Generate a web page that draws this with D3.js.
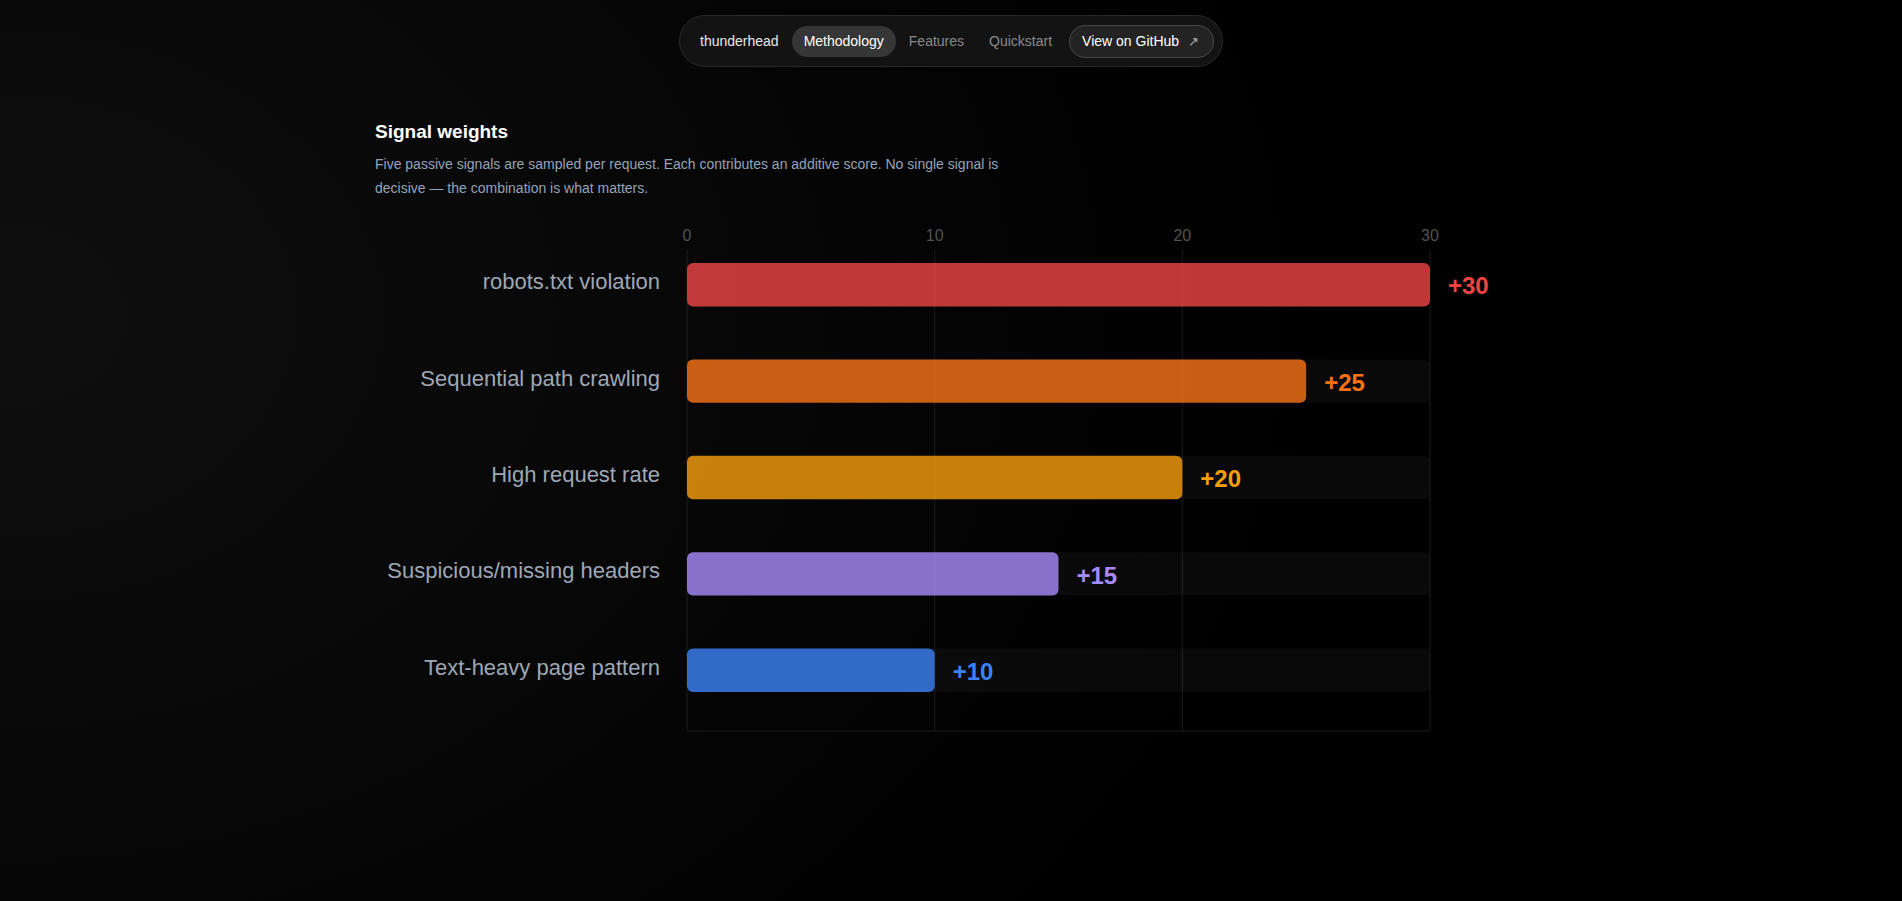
<!DOCTYPE html>
<html>
<head>
<meta charset="utf-8">
<script src="https://cdn.jsdelivr.net/npm/d3@7"></script>
<style>
  html, body { margin: 0; padding: 0; }
  body {
    width: 1902px; height: 901px; overflow: hidden; position: relative;
    background: radial-gradient(ellipse 70% 110% at 0% 35%, #0f0f0f 0%, #080808 45%, #000 100%);
    font-family: "Liberation Sans", Arial, sans-serif;
  }
  .nav {
    position: absolute; left: 679px; top: 15px; height: 52px; box-sizing: border-box;
    border: 1px solid #2a2a2a; border-radius: 26px; background: #131313;
    display: flex; align-items: center; padding: 0 8px; gap: 1px;
  }
  .nav a { font-size: 14px; line-height: 17px; padding: 7px 12px; border-radius: 16px; color: #8a8a8a; text-decoration: none; white-space: nowrap; }
  .nav a.brand { color: #e8e8e8; }
  .nav a.active { background: #363636; color: #fff; }
  .nav a.gh { border: 1px solid #474747; background: #232323; color: #fff; padding: 7px 14px 7px 12px; margin-left: 4px; }
  .nav a.gh span { color: #aaa; font-size: 13px; margin-left: 9px; }
  h2 { position: absolute; left: 375px; top: 120px; margin: 0; font-size: 19px; line-height: 24px; color: #fff; font-weight: bold; }
  p.sub { position: absolute; left: 375px; top: 152px; margin: 0; width: 640px; font-size: 14px; line-height: 24px; color: #94a3b8; }
  svg { position: absolute; left: 0; top: 0; }
</style>
</head>
<body>
<div class="nav">
  <a class="brand">thunderhead</a>
  <a class="active">Methodology</a>
  <a>Features</a>
  <a>Quickstart</a>
  <a class="gh">View on GitHub<span>↗</span></a>
</div>
<h2>Signal weights</h2>
<p class="sub">Five passive signals are sampled per request. Each contributes an additive score. No single signal is decisive — the combination is what matters.</p>
<svg id="chart" width="1902" height="901"></svg>
<script>
const signals = ["robots.txt violation", "Sequential path crawling", "High request rate", "Suspicious/missing headers", "Text-heavy page pattern"];
const weights = [30, 25, 20, 15, 10];
const colors = ["#ef4444", "#f97316", "#f59e0b", "#a78bfa", "#3b82f6"];
const ticks = [0, 10, 20, 30];

const rows = signals.map((s, i) => ({ name: s, value: weights[i], color: colors[i] }));

const svg = d3.select("#chart");

const x = d3.scaleLinear()
    .domain([0, 30])
    .range([687, 1430]);

const y = d3.scaleBand()
    .domain(signals)
    .range([236.5, 718.5])
    .paddingInner(0.55)
    .paddingOuter(0.275);

const gridTop = 250, gridBottom = 731;

// grid
svg.append("g")
    .selectAll("line")
    .data(ticks)
    .join("line")
    .attr("x1", d => x(d)).attr("x2", d => x(d))
    .attr("y1", gridTop).attr("y2", gridBottom)
    .attr("stroke", "#1c1c1c")
    .attr("stroke-width", 1);

svg.append("line")
    .attr("x1", x(0)).attr("x2", x(30))
    .attr("y1", gridBottom).attr("y2", gridBottom)
    .attr("stroke", "#1c1c1c");

// tick labels on top
svg.append("g")
    .selectAll("text")
    .data(ticks)
    .join("text")
    .attr("x", d => x(d))
    .attr("y", 241)
    .attr("text-anchor", "middle")
    .attr("fill", "#525252")
    .attr("font-size", 16)
    .text(d => d);

// background tracks
svg.append("g")
    .selectAll("rect")
    .data(rows)
    .join("rect")
    .attr("x", x(0))
    .attr("y", d => y(d.name))
    .attr("width", x(30) - x(0))
    .attr("height", y.bandwidth())
    .attr("rx", 6)
    .attr("fill", "#fff")
    .attr("fill-opacity", 0.035);

// bars
svg.append("g")
    .selectAll("rect")
    .data(rows)
    .join("rect")
    .attr("x", x(0))
    .attr("y", d => y(d.name))
    .attr("width", d => x(d.value) - x(0))
    .attr("height", y.bandwidth())
    .attr("rx", 6)
    .attr("fill", d => d.color)
    .attr("fill-opacity", 0.8);

// category labels
svg.append("g")
    .selectAll("text")
    .data(rows)
    .join("text")
    .attr("x", x(0) - 27)
    .attr("y", d => y(d.name) + y.bandwidth() / 2)
    .attr("dy", "0.2em")
    .attr("text-anchor", "end")
    .attr("fill", "#9ea7b5")
    .attr("font-size", 22)
    .text(d => d.name);

// value labels
svg.append("g")
    .selectAll("text")
    .data(rows)
    .join("text")
    .attr("x", d => x(d.value) + 18)
    .attr("y", d => y(d.name) + y.bandwidth() / 2)
    .attr("dy", "0.4em")
    .attr("fill", d => d.color)
    .attr("font-size", 24)
    .attr("font-weight", "bold")
    .text(d => "+" + d.value);
</script>
</body>
</html>
